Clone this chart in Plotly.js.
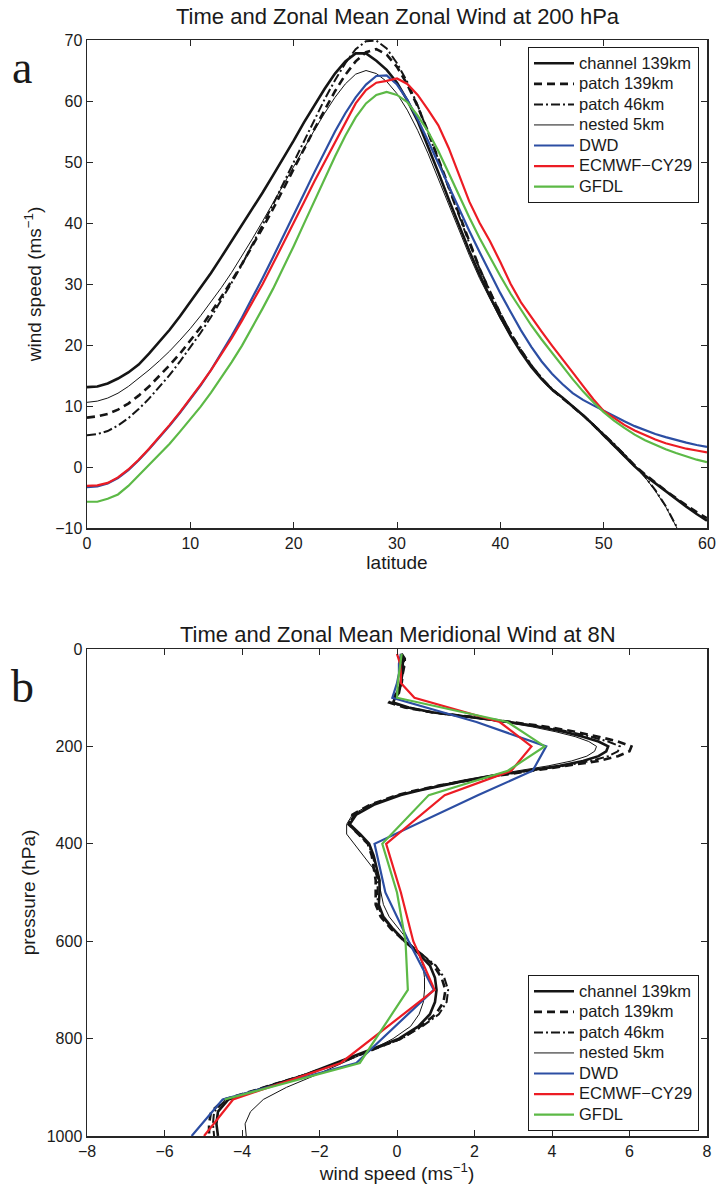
<!DOCTYPE html>
<html>
<head>
<meta charset="utf-8">
<script src="https://cdn.plot.ly/plotly-3.0.1.min.js"></script>
<style>html,body{margin:0;padding:0;background:#fff;}#chart{width:716px;height:1191px;}</style>
</head>
<body>
<div id="chart"></div>
<script>
// ---------- Panel a: zonal wind at 200 hPa vs latitude ----------
const lat = [0,1,2,3,4,5,6,7,8,9,10,11,12,13,14,15,16,17,18,19,20,21,22,23,24,25,26,27,28,29,30,31,32,33,34,35,36,37,38,39,40,41,42,43,44,45,46,47,48,49,50,51,52,53,54,55,56,57,58,59,60];
const chan139A = [13.1,13.2,13.7,14.5,15.5,16.8,18.6,20.5,22.5,24.7,27.0,29.3,31.8,34.4,37.0,39.6,42.3,45.0,47.8,50.6,53.5,56.5,59.3,62.0,64.5,66.5,67.8,67.8,66.6,65.1,63.0,60.1,56.7,52.6,48.3,43.9,39.6,35.4,31.5,27.9,24.6,21.5,18.8,16.4,14.4,12.7,11.4,10.0,8.5,6.9,5.2,3.5,1.8,0.1,-1.4,-2.7,-4.0,-5.3,-6.5,-7.7,-8.8];
const patch139A = [8.1,8.3,8.7,9.4,10.4,11.7,13.2,14.9,16.7,18.6,20.7,22.9,25.3,27.8,30.5,33.3,36.2,39.2,42.3,45.5,48.8,52.1,55.4,58.6,61.6,64.3,66.5,68.0,68.5,67.6,65.6,62.7,59.1,55.0,50.5,45.8,41.2,36.7,32.5,28.6,25.1,21.9,19.1,16.6,14.5,12.7,11.3,9.9,8.5,6.9,5.2,3.5,1.8,0.2,-1.2,-2.6,-3.9,-5.1,-6.3,-7.4,-8.4];
const lat46 = [0,1,2,3,4,5,6,7,8,9,10,11,12,13,14,15,16,17,18,19,20,21,22,23,24,25,26,27,28,29,30,31,32,33,34,35,36,37,38,39,40,41,42,43,44,45,46,47,48,49,50,51,52,53,54,55,56,57,58];
const patch46A = [5.2,5.4,5.9,6.8,8.0,9.5,11.2,13.1,15.1,17.3,19.6,22.0,24.6,27.3,30.2,33.2,36.4,39.6,43.0,46.5,50.0,53.5,57.0,60.3,63.4,66.2,68.5,69.8,69.9,68.6,66.2,63.1,59.3,55.0,50.4,45.7,41.1,36.7,32.5,28.7,25.2,22.0,19.2,16.7,14.6,12.8,11.3,9.9,8.5,7.0,5.4,3.8,2.1,0.3,-1.6,-3.8,-6.4,-9.6,-13.2];
const nested5A = [10.6,10.8,11.3,12.1,13.2,14.5,15.9,17.4,19.0,20.8,22.7,24.8,27.0,29.4,31.9,34.6,37.4,40.3,43.3,46.3,49.3,52.3,55.2,58.0,60.6,62.8,64.4,65.0,64.5,63.2,61.2,58.5,55.2,51.4,47.2,42.9,38.7,34.7,30.9,27.5,24.3,21.4,18.9,16.6,14.6,12.9,11.4,10.0,8.6,7.1,5.5,3.9,2.2,0.3,-1.7,-3.9,-6.5,-9.7,-13.3];
const dwdA = [-3.3,-3.2,-2.7,-1.8,-0.5,1.1,2.9,4.8,6.8,8.9,11.1,13.4,15.9,18.6,21.5,24.5,27.7,31.0,34.4,37.8,41.3,44.8,48.3,51.7,55.0,58.0,60.6,62.7,64.1,64.2,62.7,60.2,57.0,53.5,49.8,46.0,42.3,38.7,35.2,31.8,28.5,25.4,22.4,19.7,17.3,15.3,13.6,12.1,11.0,10.1,9.2,8.3,7.5,6.7,6.0,5.4,4.9,4.4,4.0,3.6,3.3];
const ecmwfA = [-3.1,-3.0,-2.6,-1.7,-0.4,1.2,3.0,4.9,6.9,9.0,11.2,13.5,15.9,18.4,21.1,24.0,27.0,30.0,33.3,36.6,40.0,43.4,46.8,50.0,53.3,56.6,59.6,61.8,63.0,63.3,63.7,62.8,61.0,58.6,56.0,52.3,47.8,43.5,40.0,37.0,33.6,30.0,27.0,24.5,22.2,19.9,17.6,15.5,13.3,11.1,9.2,8.0,6.9,6.0,5.2,4.5,3.9,3.4,3.0,2.7,2.4];
const gfdlA = [-5.7,-5.7,-5.2,-4.5,-3.1,-1.4,0.3,2.0,3.8,5.8,7.8,9.9,12.2,14.6,17.2,19.9,22.9,26.0,29.2,32.6,36.2,39.9,43.6,47.3,50.9,54.3,57.3,59.6,61.0,61.5,61.0,59.8,57.6,55.0,51.8,48.2,44.5,40.9,37.5,34.3,31.3,28.4,25.7,23.2,20.9,18.7,16.5,14.4,12.4,10.6,9.0,7.6,6.4,5.3,4.4,3.6,2.9,2.3,1.7,1.2,0.8];

// ---------- Panel b: meridional wind at 8N vs pressure ----------
const pModel = [10,20,30,50,70,90,100,110,120,130,140,150,160,170,180,190,200,210,220,230,240,250,260,270,280,290,300,320,340,360,380,400,425,450,475,500,525,550,575,600,625,650,675,700,725,750,775,800,825,850,875,900,925,950,975,1000];
const chan139B = [0.10,0.15,0.15,0.12,0.10,0.05,-0.05,-0.10,0.30,0.90,1.90,2.90,3.70,4.30,4.80,5.20,5.45,5.40,5.20,4.80,4.20,3.30,2.50,1.80,1.20,0.60,0.10,-0.60,-1.05,-1.22,-0.95,-0.72,-0.60,-0.52,-0.45,-0.45,-0.47,-0.35,-0.10,0.20,0.55,0.85,0.98,1.02,0.98,0.85,0.55,0.05,-0.75,-1.55,-2.40,-3.40,-4.35,-4.62,-4.66,-4.62];
const patch139B = [0.12,0.20,0.20,0.15,0.12,0.00,-0.12,-0.20,0.20,0.90,2.00,3.00,3.90,4.60,5.20,5.70,6.05,6.00,5.70,5.20,4.40,3.50,2.60,1.80,1.10,0.50,0.00,-0.70,-1.15,-1.25,-1.00,-0.75,-0.65,-0.60,-0.55,-0.55,-0.55,-0.42,-0.15,0.20,0.60,0.95,1.15,1.25,1.20,1.00,0.60,0.10,-0.70,-1.50,-2.40,-3.40,-4.45,-4.80,-4.85,-4.85];
const patch46B = [0.12,0.18,0.18,0.15,0.10,0.00,-0.10,-0.15,0.25,0.90,1.95,2.95,3.80,4.45,5.00,5.45,5.75,5.70,5.45,5.00,4.30,3.40,2.55,1.80,1.15,0.55,0.05,-0.65,-1.10,-1.25,-1.00,-0.75,-0.62,-0.55,-0.50,-0.50,-0.50,-0.38,-0.12,0.22,0.60,1.00,1.22,1.32,1.28,1.08,0.65,0.12,-0.70,-1.50,-2.40,-3.40,-4.40,-4.72,-4.75,-4.72];
const nested5B = [0.10,0.12,0.12,0.10,0.08,0.02,-0.05,-0.10,0.30,0.85,1.80,2.75,3.50,4.10,4.60,4.95,5.15,5.10,4.90,4.50,3.90,3.10,2.35,1.65,1.05,0.50,0.00,-0.70,-1.15,-1.30,-1.30,-1.10,-0.85,-0.62,-0.48,-0.42,-0.35,-0.20,0.05,0.30,0.55,0.67,0.71,0.71,0.68,0.57,0.35,-0.10,-0.70,-1.40,-2.10,-2.85,-3.45,-3.78,-3.92,-3.89];
const pStd = [10,20,30,50,70,100,150,200,250,300,400,500,600,700,850,925,1000];
const dwdB = [0.10,0.08,0.05,0.05,0.00,-0.12,2.05,3.85,3.50,2.10,-0.58,-0.30,0.30,0.95,-1.05,-4.50,-5.30];
const ecmwfB = [0.00,0.05,0.08,0.10,0.10,0.45,2.65,3.47,2.95,1.23,-0.28,0.10,0.42,0.97,-1.45,-4.23,-4.98];
const pGfdl = [10,20,30,50,70,100,150,200,250,300,400,500,600,700,850,925];
const gfdlB = [0.12,0.10,0.08,0.05,0.02,0.00,2.85,3.81,2.86,0.82,-0.38,0.00,0.22,0.28,-0.96,-4.45];

const seriesNames = ['channel 139km','patch 139km','patch 46km','nested 5km','DWD','ECMWF\u2212CY29','GFDL'];

// ---------- styles ----------
const FONT = 'Liberation Sans, Arial, Helvetica, sans-serif';
const BLK = '#151515';
const styles = [
  {color:BLK, width:2.6, dash:'solid'},
  {color:BLK, width:2.6, dash:'8px,5px'},
  {color:BLK, width:2.0, dash:'9px,3px,2px,3px'},
  {color:BLK, width:1.0, dash:'solid'},
  {color:'#2c4ea3', width:2.2, dash:'solid'},
  {color:'#ec1c24', width:2.2, dash:'solid'},
  {color:'#5cb946', width:2.2, dash:'solid'}
];

const aX = [lat, lat, lat46, lat46, lat, lat, lat];
const aY = [chan139A, patch139A, patch46A, nested5A, dwdA, ecmwfA, gfdlA];
const bX = [chan139B, patch139B, patch46B, nested5B, dwdB, ecmwfB, gfdlB];
const bY = [pModel, pModel, pModel, pModel, pStd, pStd, pGfdl];

const legendLabel = s => '<span style="font-size:16.5px">' + s + '</span>';

const traces = [];
for (let i = 0; i < 7; i++) {
  traces.push({type:'scatter', mode:'lines', x:aX[i], y:aY[i], name:legendLabel(seriesNames[i]),
    line:Object.assign({}, styles[i]), xaxis:'x', yaxis:'y', legend:'legend', hoverinfo:'skip'});
}
for (let i = 0; i < 7; i++) {
  traces.push({type:'scatter', mode:'lines', x:bX[i], y:bY[i], name:legendLabel(seriesNames[i]),
    line:Object.assign({}, styles[i]), xaxis:'x2', yaxis:'y2', legend:'legend2', hoverinfo:'skip'});
}

const W = 716, H = 1191;
const px = v => v / W;
const py = v => 1 - v / H;

const axisBase = {
  showline:true, mirror:'allticks', linecolor:'#262626', linewidth:1.5,
  ticks:'inside', ticklen:6, tickwidth:1, tickcolor:'#262626',
  showgrid:false, zeroline:false,
  tickfont:{family:FONT, size:16, color:'#1a1a1a'}
};

const legendBase = {
  xanchor:'left', bgcolor:'#ffffff', bordercolor:'#1a1a1a', borderwidth:1,
  font:{family:FONT, size:13.5, color:'#1a1a1a'}, tracegroupgap:0, itemwidth:40
};

const layout = {
  width:W, height:H,
  margin:{l:0, r:0, t:0, b:0},
  paper_bgcolor:'#ffffff', plot_bgcolor:'#ffffff',
  font:{family:FONT, color:'#1a1a1a'},
  showlegend:true,
  xaxis: Object.assign({}, axisBase, {
    domain:[px(87), px(707)], range:[0,60], tickvals:[0,10,20,30,40,50,60], anchor:'y',
    title:{text:'latitude', font:{family:FONT, size:19, color:'#1a1a1a'}, standoff:2}
  }),
  yaxis: Object.assign({}, axisBase, {
    domain:[py(528), py(40)], range:[-10,70], tickvals:[-10,0,10,20,30,40,50,60,70], anchor:'x',
    title:{text:'wind speed (ms<sup>\u22121</sup>)', font:{family:FONT, size:19, color:'#1a1a1a'}, standoff:8}
  }),
  xaxis2: Object.assign({}, axisBase, {
    domain:[px(87), px(707)], range:[-8,8], tickvals:[-8,-6,-4,-2,0,2,4,6,8], anchor:'y2',
    title:{text:'wind speed (ms<sup>\u22121</sup>)', font:{family:FONT, size:19, color:'#1a1a1a'}, standoff:4}
  }),
  yaxis2: Object.assign({}, axisBase, {
    domain:[py(1136), py(649)], range:[1000,0], tickvals:[0,200,400,600,800,1000], anchor:'x2',
    title:{text:'pressure (hPa)', font:{family:FONT, size:19, color:'#1a1a1a'}, standoff:6}
  }),
  legend: Object.assign({}, legendBase, {x:px(528), y:py(47), yanchor:'top'}),
  legend2: Object.assign({}, legendBase, {x:px(528), y:py(1131), yanchor:'bottom'}),
  annotations:[
    {text:'Time and Zonal Mean Zonal Wind at 200 hPa', xref:'paper', yref:'paper', x:px(398), y:py(17),
     xanchor:'center', yanchor:'middle', showarrow:false, font:{family:FONT, size:22, color:'#1a1a1a'}},
    {text:'Time and Zonal Mean Meridional Wind at 8N', xref:'paper', yref:'paper', x:px(398), y:py(634),
     xanchor:'center', yanchor:'middle', showarrow:false, font:{family:FONT, size:22, color:'#1a1a1a'}},
    {text:'a', xref:'paper', yref:'paper', x:px(22), y:py(68), xanchor:'center', yanchor:'middle',
     showarrow:false, font:{family:'Liberation Serif, Times New Roman, serif', size:46, color:'#1a1a1a'}},
    {text:'b', xref:'paper', yref:'paper', x:px(22), y:py(686), xanchor:'center', yanchor:'middle',
     showarrow:false, font:{family:'Liberation Serif, Times New Roman, serif', size:46, color:'#1a1a1a'}}
  ]
};

Plotly.newPlot('chart', traces, layout, {staticPlot:true, displayModeBar:false});
</script>
</body>
</html>
